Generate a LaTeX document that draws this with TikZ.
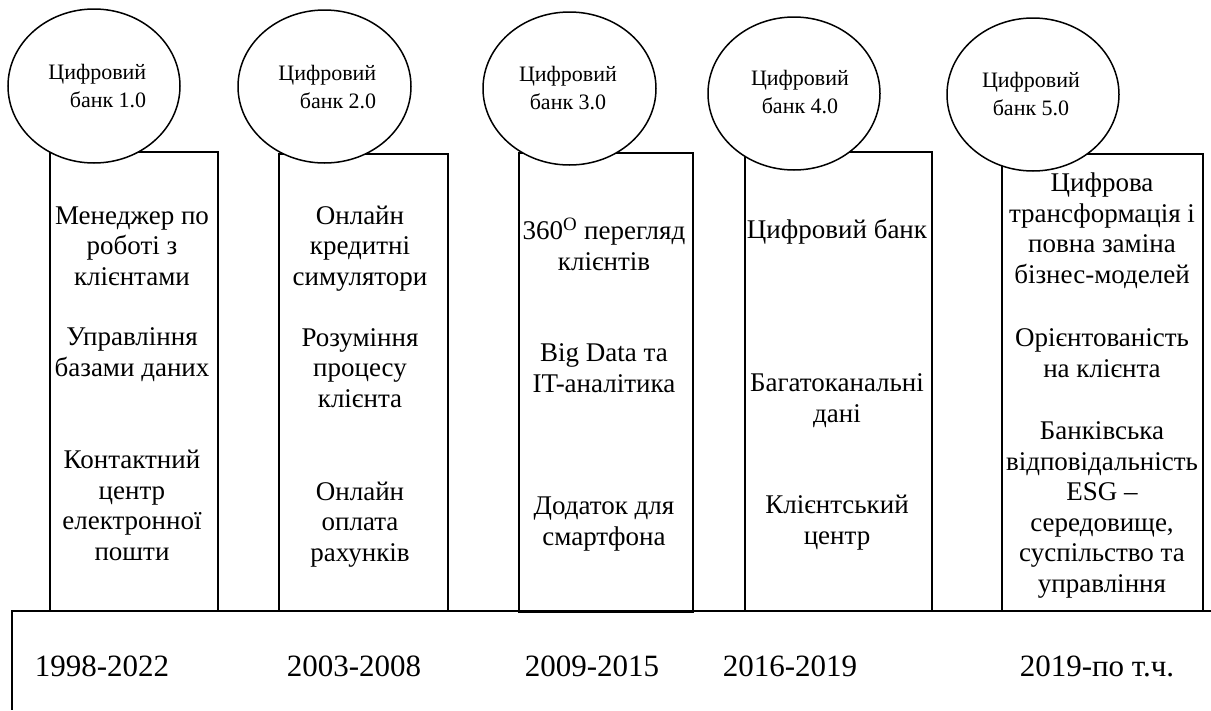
\documentclass[tikz,border=0pt]{standalone}
\usepackage{fontspec}
\setmainfont{Liberation Serif}
\usetikzlibrary{shapes.geometric}
\begin{document}
% the base anchor of a multi-line node sits on its last line
\begin{tikzpicture}[x=1pt,y=-1pt,
  line width=1.5pt,
  colbox/.style={draw, rectangle, inner sep=0pt, line width=1.5pt},
  stage/.style={draw, ellipse, fill=white, inner sep=0pt, line width=1.5pt},
  stagetext/.style={font=\fontsize{22}{27.5}\selectfont, inner sep=0pt},
  itemtext/.style={font=\fontsize{27}{30.5}\selectfont, align=center, inner sep=0pt, anchor=base},
  yeartext/.style={font=\fontsize{31}{36}\selectfont, inner sep=0pt, anchor=base}]
\useasboundingbox (0,0) rectangle (1211,710);

% timeline bar at the bottom
\draw[line width=1.5pt] (1211,611) -| (12,710);

% columns of features
\node[colbox, minimum width=168pt, minimum height=459pt] (c1) at (134,381.5) {};
\node[colbox, minimum width=169pt, minimum height=457pt] (c2) at (363.5,382.5) {};
\node[colbox, minimum width=174pt, minimum height=459pt] (c3) at (606,382.5) {};
\node[colbox, minimum width=187pt, minimum height=459pt] (c4) at (838.5,381.5) {};
\node[colbox, minimum width=201pt, minimum height=457pt] (c5) at (1102.5,382.5) {};

% stage ellipses on top of the columns
\node[stage, minimum width=172pt, minimum height=154pt] (e1) at (94,86) {};
\node[stage, minimum width=173pt, minimum height=153pt] (e2) at (324.5,86.5) {};
\node[stage, minimum width=173pt, minimum height=153pt] (e3) at (569.5,88.5) {};
\node[stage, minimum width=172pt, minimum height=153pt] (e4) at (794,93.5) {};
\node[stage, minimum width=172pt, minimum height=153pt] (e5) at (1033,94.5) {};

\node[stagetext, align=right, anchor=base east] (t1) at (147,107) {Цифровий\\банк 1.0};
\node[stagetext, align=right, anchor=base east] (t2) at (377,108) {Цифровий\\банк 2.0};
\node[stagetext, align=center, anchor=base] (t3) at (568,109) {Цифровий\\банк 3.0};
\node[stagetext, align=center, anchor=base] (t4) at (800,113) {Цифровий\\банк 4.0};
\node[stagetext, align=center, anchor=base] (t5) at (1031,115) {Цифровий\\банк 5.0};

% column 1
\node[itemtext] (a1) at (132,285) {Менеджер по\\роботі з\\клієнтами};
\node[itemtext] (a2) at (132,376) {Управління\\базами даних};
\node[itemtext] (a3) at (132,560) {Контактний\\центр\\електронної\\пошти};
% column 2
\node[itemtext] (b1) at (360,285) {Онлайн\\кредитні\\симулятори};
\node[itemtext] (b2) at (360,407) {Розуміння\\процесу\\клієнта};
\node[itemtext] (b3) at (360,561) {Онлайн\\оплата\\рахунків};
% column 3
\node[itemtext] (d1) at (604,270) {360\textsuperscript{O} перегляд\\клієнтів};
\node[itemtext] (d2) at (604,392) {Big Data та\\IT-аналітика};
\node[itemtext] (d3) at (604,545) {Додаток для\\смартфона};
% column 4
\node[itemtext] (f1) at (837,238) {Цифровий банк};
\node[itemtext] (f2) at (837,422) {Багатоканальні\\дані};
\node[itemtext] (f3) at (837,544) {Клієнтський\\центр};
% column 5
\node[itemtext] (g1) at (1102,283) {Цифрова\\трансформація і\\повна заміна\\бізнес-моделей};
\node[itemtext] (g2) at (1102,377) {Орієнтованість\\на клієнта};
\node[itemtext] (g3) at (1102,592) {Банківська\\відповідальність\\ESG –\\середовище,\\суспільство та\\управління};

% periods
\node[yeartext] (y1) at (102,676) {1998-2022};
\node[yeartext] (y2) at (354,676) {2003-2008};
\node[yeartext] (y3) at (592,676) {2009-2015};
\node[yeartext] (y4) at (790,676) {2016-2019};
\node[yeartext] (y5) at (1097,676) {2019-по т.ч.};
\end{tikzpicture}
\end{document}
